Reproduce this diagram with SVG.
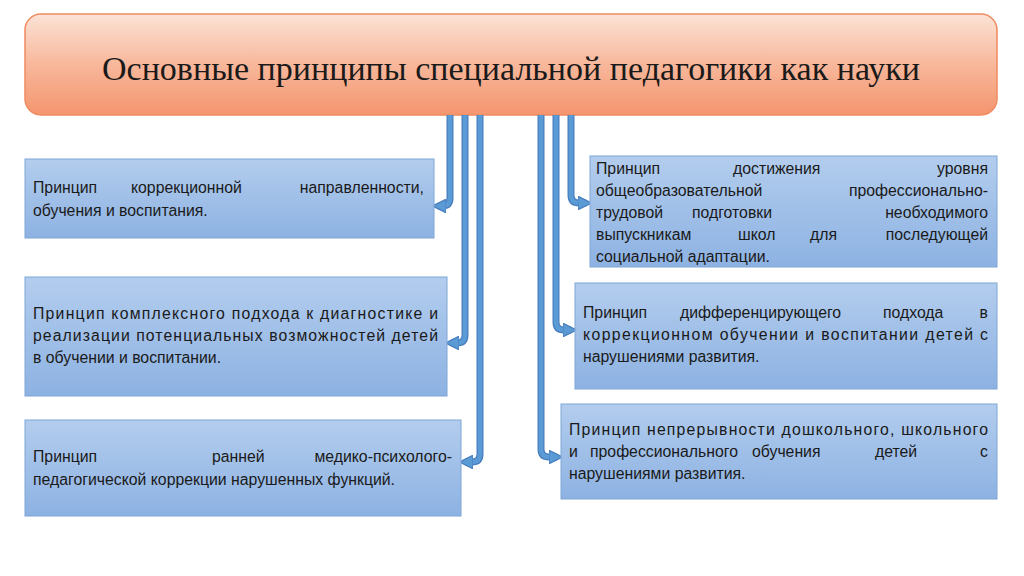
<svg xmlns="http://www.w3.org/2000/svg" width="1024" height="576" viewBox="0 0 1024 576">
<defs>
<linearGradient id="tg" x1="0" y1="0" x2="0" y2="1"><stop offset="0" stop-color="#fbe3d6"/><stop offset="0.5" stop-color="#f8b79b"/><stop offset="1" stop-color="#f4956e"/></linearGradient>
<linearGradient id="bg" x1="0" y1="0" x2="0" y2="1"><stop offset="0" stop-color="#b3cdee"/><stop offset="1" stop-color="#8db2e2"/></linearGradient>
<marker id="ar" viewBox="0 0 10 10" refX="6" refY="5" markerWidth="3" markerHeight="3" orient="auto" markerUnits="strokeWidth"><path d="M0,0 L10,5 L0,10 z" fill="#5b9bd5" stroke="#4a7fbf" stroke-width="1"/></marker>
</defs>
<style>
.b{fill:url(#bg);stroke:#7ea6d6;stroke-width:1}
.t{font-family:"Liberation Sans",Arial,sans-serif;font-size:15.8px;fill:#1a1a1a}
.e{text-anchor:end}
.o{fill:none;stroke:#4a7fbf;stroke-width:7;stroke-linejoin:round}
.i{fill:none;stroke:#5b9bd5;stroke-width:4.5;stroke-linejoin:round}
</style>
<rect width="1024" height="576" fill="#fff"/>
<g id="title"><rect x="25" y="14" width="972" height="101" rx="16" fill="url(#tg)" stroke="#f08a60" stroke-width="1.5"/>
<text x="511" y="80" text-anchor="middle" textLength="818" lengthAdjust="spacingAndGlyphs" font-family="'Liberation Serif','Times New Roman',serif" font-size="33" fill="#1a1a1a">Основные принципы специальной педагогики как науки</text></g>
<g id="connectors">
<path class="o" d="M450,115 V198 Q450,206 442,206 H438"/>
<path class="o" d="M465,115 V335 Q465,343 457,343 H451"/>
<path class="o" d="M480,115 V454 Q480,462 472,462 H465"/>
<path class="o" d="M571,115 V195 Q571,203 579,203 H586"/>
<path class="o" d="M556,115 V322 Q556,330 564,330 H571"/>
<path class="o" d="M541,115 V449 Q541,457 549,457 H557"/>
<path class="i" marker-end="url(#ar)" d="M450,115 V198 Q450,206 442,206 H438"/>
<path class="i" marker-end="url(#ar)" d="M465,115 V335 Q465,343 457,343 H451"/>
<path class="i" marker-end="url(#ar)" d="M480,115 V454 Q480,462 472,462 H465"/>
<path class="i" marker-end="url(#ar)" d="M571,115 V195 Q571,203 579,203 H586"/>
<path class="i" marker-end="url(#ar)" d="M556,115 V322 Q556,330 564,330 H571"/>
<path class="i" marker-end="url(#ar)" d="M541,115 V449 Q541,457 549,457 H557"/>
</g>
<g id="n1"><rect class="b" x="25" y="159" width="409" height="79"/>
<text class="t" x="33" y="193">Принцип</text><text class="t" x="131" y="193">коррекционной</text><text class="t e" x="424" y="193">направленности,</text>
<text class="t" x="33" y="216">обучения и воспитания.</text></g>
<g id="n2"><rect class="b" x="25" y="277" width="422" height="119"/>
<text class="t" x="33" y="319" textLength="405" lengthAdjust="spacing">Принцип комплексного подхода к диагностике и</text>
<text class="t" x="33" y="341" textLength="405" lengthAdjust="spacing">реализации потенциальных возможностей детей</text>
<text class="t" x="33" y="363">в обучении и воспитании.</text></g>
<g id="n3"><rect class="b" x="25" y="420" width="436" height="96"/>
<text class="t" x="33" y="462">Принцип</text><text class="t" x="212" y="462">ранней</text><text class="t e" x="452" y="462">медико-психолого-</text>
<text class="t" x="33" y="485">педагогической коррекции нарушенных функций.</text></g>
<g id="n4"><rect class="b" x="590" y="156" width="407" height="111"/>
<text class="t" x="596" y="174">Принцип</text><text class="t" x="733" y="174">достижения</text><text class="t e" x="988" y="174">уровня</text>
<text class="t" x="596" y="196">общеобразовательной</text><text class="t e" x="988" y="196">профессионально-</text>
<text class="t" x="596" y="218">трудовой</text><text class="t" x="692" y="218">подготовки</text><text class="t e" x="988" y="218">необходимого</text>
<text class="t" x="596" y="240">выпускникам</text><text class="t" x="738" y="240">школ</text><text class="t" x="810" y="240">для</text><text class="t e" x="988" y="240">последующей</text>
<text class="t" x="596" y="262">социальной адаптации.</text></g>
<g id="n5"><rect class="b" x="575" y="283" width="422" height="106"/>
<text class="t" x="583" y="318">Принцип</text><text class="t" x="680" y="318">дифференцирующего</text><text class="t" x="883" y="318">подхода</text><text class="t e" x="988" y="318">в</text>
<text class="t" x="583" y="340" textLength="405" lengthAdjust="spacing">коррекционном обучении и воспитании детей с</text>
<text class="t" x="583" y="362">нарушениями развития.</text></g>
<g id="n6"><rect class="b" x="561" y="404" width="436" height="95"/>
<text class="t" x="569" y="435" textLength="419" lengthAdjust="spacing">Принцип непрерывности дошкольного, школьного</text>
<text class="t" x="569" y="457">и</text><text class="t" x="590" y="457">профессионального</text><text class="t" x="752" y="457">обучения</text><text class="t" x="875" y="457">детей</text><text class="t e" x="988" y="457">с</text>
<text class="t" x="569" y="479">нарушениями развития.</text></g>
</svg>
